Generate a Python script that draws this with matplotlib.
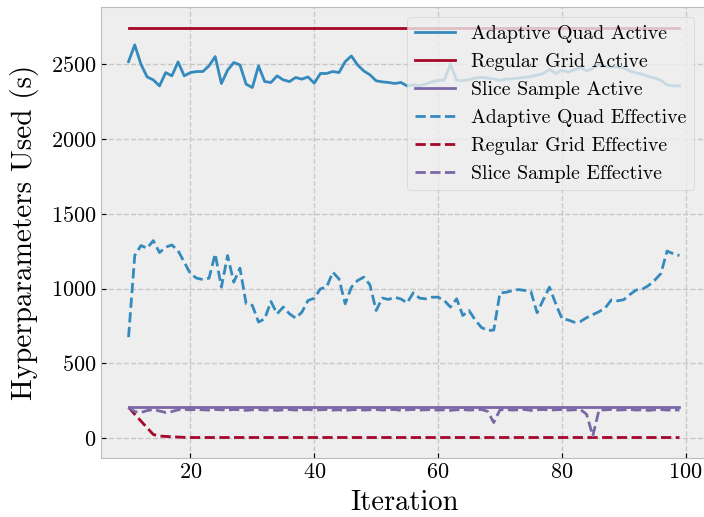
import matplotlib
matplotlib.use("Agg")
import matplotlib.pyplot as plt
import numpy as np

plt.style.use("bmh")
plt.rcParams['font.family'] = ['cmr10', 'DejaVu Serif']
plt.rcParams['mathtext.fontset'] = 'cm'
plt.rcParams['axes.formatter.use_mathtext'] = True

iterations = list(range(10, 100))

adaptive_active = [
    2515, 2627, 2498, 2413, 2393, 2353, 2442, 2420, 2513, 2420,
    2442, 2449, 2449, 2487, 2549, 2369, 2458, 2509, 2493, 2364,
    2342, 2487, 2382, 2376, 2420, 2393, 2382, 2409, 2398, 2413,
    2371, 2436, 2436, 2449, 2442, 2515, 2553, 2493, 2453, 2427,
    2387, 2380, 2376, 2369, 2376, 2353, 2360, 2355, 2365, 2380,
    2390, 2392, 2498, 2390, 2388, 2395, 2405, 2410, 2405, 2400,
    2390, 2398, 2400, 2405, 2410, 2415, 2425, 2435, 2464, 2436,
    2458, 2445, 2460, 2476, 2453, 2470, 2498, 2485, 2480, 2480,
    2470, 2453, 2440, 2431, 2415, 2405, 2391, 2360, 2353, 2353,
]

grid_active = [2743] * 90

slice_active = [207] * 90

adaptive_effective = [
    675, 1220, 1287, 1269, 1320, 1240, 1276, 1291, 1253, 1176,
    1098, 1069, 1060, 1069, 1231, 1009, 1220, 1042, 1136, 898,
    887, 776, 798, 913, 831, 876, 831, 802, 842, 920,
    935, 998, 1009, 1109, 1064, 898, 1009, 1053, 1076, 1024,
    853, 936, 927, 942, 930, 904, 971, 936, 931, 942,
    942, 920, 876, 931, 820, 853, 790, 740, 720, 722,
    970, 975, 985, 993, 987, 980, 838, 925, 1009, 900,
    800, 790, 775, 780, 805, 825, 845, 870, 924, 918,
    925, 960, 990, 995, 1020, 1055, 1100, 1250, 1232, 1220,
]

grid_effective = [
    207, 160, 115, 70, 25, 15, 12, 10, 8, 6,
] + [5] * 80

slice_effective = [
    207, 178, 172, 185, 192, 182, 172, 178, 190, 192,
    190, 192, 190, 188, 192, 190, 188, 192, 190, 186,
    190, 192, 188, 190, 186, 190, 192, 188, 190, 192,
    188, 190, 192, 188, 190, 186, 190, 192, 188, 190,
    192, 188, 190, 192, 186, 190, 192, 188, 190, 192,
    188, 190, 186, 190, 192, 188, 190, 192, 180, 105,
    190, 192, 188, 190, 192, 186, 190, 192, 188, 190,
    192, 188, 190, 192, 160, 15, 188, 190, 192, 188,
    190, 192, 188, 190, 186, 190, 192, 188, 190, 188,
]

fig = plt.figure(figsize=(7.04, 5.17), dpi=100)
ax = fig.add_axes([101 / 704, (517 - 458) / 517, (707 - 101) / 704, (458 - 7) / 517])

c_blue, c_red, c_purple = '#348ABD', '#A60628', '#7A68A6'
ax.plot(iterations, adaptive_active, color=c_blue, label='Adaptive Quad Active')
ax.plot(iterations, grid_active, color=c_red, label='Regular Grid Active')
ax.plot(iterations, slice_active, color=c_purple, label='Slice Sample Active')
ax.plot(iterations, adaptive_effective, color=c_blue, ls='--', label='Adaptive Quad Effective')
ax.plot(iterations, grid_effective, color=c_red, ls='--', label='Regular Grid Effective')
ax.plot(iterations, slice_effective, color=c_purple, ls='--', label='Slice Sample Effective')

ax.set_xticks([20, 40, 60, 80, 100])
ax.set_yticks([0, 500, 1000, 1500, 2000, 2500])
ax.tick_params(labelsize=16)
ax.grid(True, color='#c8c8c8', linestyle='--', linewidth=1.0)
ax.set_xlabel('Iteration', fontsize=20.5, labelpad=5)
ax.set_ylabel('Hyperparameters Used (s)', fontsize=21, labelpad=8)
leg = ax.legend(loc='upper right', fontsize=14.3, framealpha=0.8,
                bbox_to_anchor=(0.995, 1.0))

fig.savefig('out.png', dpi=100)
